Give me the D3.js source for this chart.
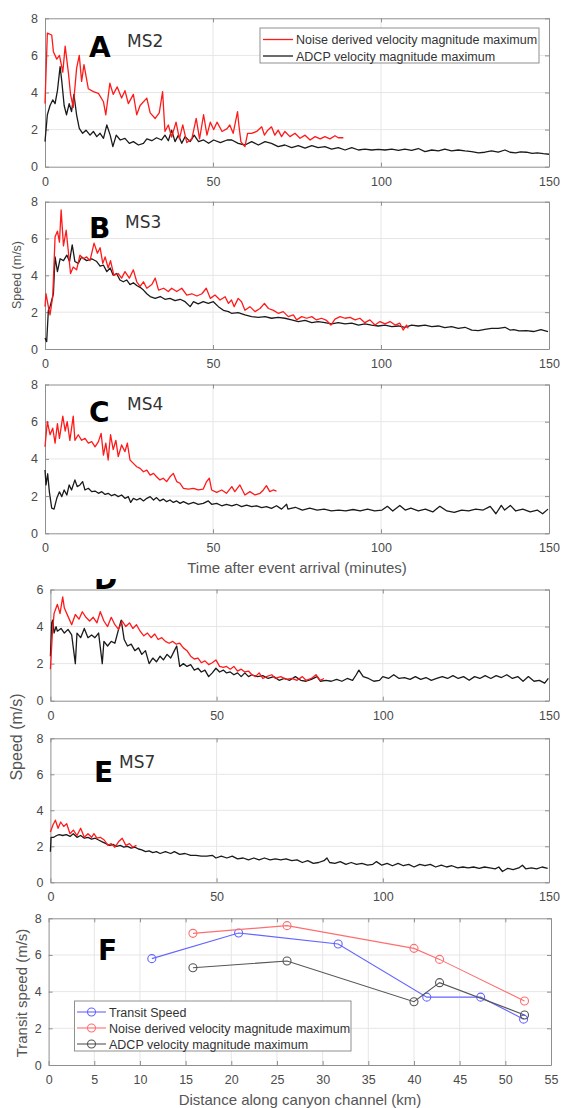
<!DOCTYPE html>
<html>
<head>
<meta charset="utf-8">
<script src="https://cdn.jsdelivr.net/npm/d3@7"></script>
<style>
  body { margin: 0; background: #fff; }
  svg { display: block; }
</style>
</head>
<body>
<div id="chart"></div>
<script>
// ---- Data: [minutes after arrival, speed m/s] ----
const msA_noise = [[0,3.4],[0.7,7.2],[2,7.1],[2.5,6.2],[3.5,5.8],[4.3,6.0],[5.3,5.1],[6,6.5],[7,5.0],[7.6,3.9],[8.4,3.2],[9.4,5.3],[10.2,6.0],[10.9,4.6],[11.6,5.5],[12.9,4.2],[14.4,4.05],[15.9,3.95],[17.4,3.5],[18.1,2.8],[19.3,4.5],[20.3,3.9],[21.5,4.3],[22.8,3.7],[23.8,4.1],[24.8,3.4],[26.3,3.9],[27.3,2.8],[28.3,3.3],[30.3,3.7],[31.3,2.9],[32.8,2.6],[34,2.9],[35,4.05],[35.7,1.9],[36.7,2.25],[37.7,1.6],[39,2.4],[40,1.5],[41,2.25],[42.2,1.3],[43.7,1.5],[45,2.6],[46,1.5],[47.2,2.8],[48.2,1.7],[49.2,2.4],[50.2,2.0],[51.2,2.4],[52.7,1.9],[54.2,2.05],[55,2.25],[56,1.8],[57.3,2.97],[57.7,2.25],[58.3,1.35],[59.5,1.08],[60.3,1.8],[61.5,1.8],[63,1.9],[64.5,2.15],[65.3,1.7],[66.3,1.97],[67.4,2.15],[68.4,1.7],[69.4,1.97],[70.4,1.62],[71.4,1.9],[72.9,1.62],[74.4,1.8],[75.9,1.53],[77.4,1.7],[78.9,1.44],[80.4,1.62],[81.9,1.5],[83.3,1.62],[84.8,1.5],[86.3,1.67],[87.3,1.56],[88.8,1.56]];
const msA_adcp = [[0,1.35],[0.7,2.8],[1.5,3.3],[2.3,3.6],[3,3.4],[3.7,4.1],[4.5,5.4],[5,4.6],[5.7,3.3],[6.4,2.8],[7.2,3.4],[7.9,2.97],[8.6,3.9],[9.4,2.8],[10.2,2.07],[11.2,1.8],[12.2,1.97],[13.4,1.7],[14.4,1.9],[15.4,1.62],[16.4,1.8],[17.4,1.53],[18.4,2.25],[19.4,1.7],[20.2,1.08],[21.2,1.7],[22.4,1.44],[23.8,1.53],[25.1,1.26],[26.3,1.35],[27.8,1.17],[29.3,1.26],[30.3,1.5],[31.8,1.4],[33.2,1.56],[34.7,1.44],[35.7,1.7],[36.7,1.4],[37.7,1.97],[38.7,1.35],[39.7,1.7],[40.7,1.26],[41.7,1.62],[43.2,1.35],[44.4,1.7],[45.7,1.35],[47.2,1.44],[48.7,1.26],[50.2,1.44],[52.2,1.3],[54.2,1.44],[55.6,1.44],[57.5,1.26],[59.5,1.17],[61.5,1.35],[63.5,1.17],[65.5,1.35],[67.4,1.26],[69.4,1.08],[71.4,1.17],[73.4,1.03],[75.4,1.14],[77.4,1.0],[79.4,1.14],[81.3,1.03],[83.3,1.08],[85.3,0.95],[87.3,1.03],[89.3,0.9],[91.3,1.03],[93.3,0.9],[95.2,0.95],[97.2,0.9],[99.2,0.93],[101.2,0.9],[103.2,0.95],[105.2,0.88],[107.1,0.95],[109.1,0.88],[111.1,0.98],[113.1,0.81],[115.1,0.9],[117.1,0.85],[119,0.95],[121,0.85],[123,0.9],[125,0.85],[127,0.81],[129,0.74],[130.9,0.78],[132.9,0.85],[134.9,0.78],[136.9,0.9],[138.4,0.78],[140.1,0.75],[141.5,0.8],[143.3,0.78],[145,0.72],[146.5,0.75],[148.3,0.7],[150,0.67]];

const msB_noise = [[0,2.3],[0.3,3.0],[1,2.3],[1.5,1.85],[2.3,2.85],[3,6.1],[3.7,6.4],[4.3,5.8],[4.8,7.55],[5.5,5.6],[6.3,6.45],[7,5.2],[7.6,4.1],[8.4,4.45],[9.4,4.3],[10.4,5.1],[11.4,4.9],[12.4,5.0],[13.4,4.8],[14.6,5.75],[15.6,5.2],[16.4,5.5],[17.2,4.65],[17.9,5.0],[18.8,4.4],[19.5,4.8],[20.5,4.0],[21.8,4.1],[22.8,3.85],[23.8,4.2],[25.1,3.85],[26.3,4.3],[27.3,3.65],[28.3,3.4],[29.3,3.65],[30.3,3.3],[31.8,3.5],[32.8,3.85],[33.8,3.2],[35.3,3.3],[36.7,3.12],[37.7,3.3],[39.2,3.12],[40.7,3.3],[42.2,2.93],[43.7,3.0],[45.2,2.88],[46.7,3.0],[48,3.3],[49.2,2.75],[50.6,2.93],[52.1,2.66],[53.6,2.84],[54.6,2.48],[55.5,2.66],[56.3,2.3],[57.5,2.75],[58.5,2.57],[59.5,2.1],[61,2.3],[62.5,2.03],[64,2.2],[65.3,2.48],[66.5,2.2],[68,2.1],[69.4,1.94],[70.9,2.03],[72.4,1.76],[73.9,1.85],[74.9,1.58],[76.4,1.76],[77.9,1.67],[79.4,1.76],[80.8,1.58],[82.3,1.67],[83.8,1.55],[85.1,1.3],[86.3,1.62],[87.8,1.76],[89.3,1.67],[90.8,1.72],[92.3,1.58],[93.7,1.67],[95.2,1.43],[96.7,1.58],[98.2,1.3],[99.7,1.49],[101.2,1.36],[102.7,1.49],[104.2,1.3],[105.6,1.4],[106.6,1.03],[107.6,1.3],[108.1,1.12]];
const msB_adcp = [[0,0.6],[0.5,0.4],[1,2.1],[1.5,2.3],[2.5,3.0],[3,5.0],[3.7,4.2],[4.5,4.9],[5.5,4.8],[6.5,5.1],[7.3,4.75],[8.1,5.65],[8.9,4.75],[9.9,4.65],[10.9,5.0],[12.4,4.8],[13.9,4.9],[15.4,4.75],[16.4,4.5],[17.4,4.55],[18.4,4.2],[19.4,4.4],[20.3,4.0],[21.3,4.1],[22.3,3.75],[23.3,3.65],[24.3,3.75],[25.3,3.5],[26.3,3.6],[27.3,3.45],[28.3,3.35],[29.3,3.2],[30.3,3.0],[31.3,2.85],[32.8,2.75],[34.3,2.85],[35.7,2.7],[37.2,2.75],[38.7,2.63],[40.2,2.7],[41.7,2.57],[43.2,2.3],[44.2,2.57],[45.6,2.45],[47.1,2.57],[48.6,2.48],[50.1,2.57],[51.6,2.3],[53.1,2.1],[54.6,2.03],[55.5,1.94],[57.5,1.98],[59.5,1.85],[61.5,1.76],[63.5,1.72],[65.5,1.76],[67.4,1.67],[69.4,1.72],[71.4,1.67],[73.4,1.58],[75.4,1.49],[77.4,1.55],[79.4,1.43],[81.3,1.49],[83.3,1.43],[85.3,1.36],[87.3,1.43],[89.3,1.36],[91.3,1.4],[93.3,1.3],[95.2,1.36],[97.2,1.3],[99.2,1.25],[101.2,1.3],[103.2,1.21],[105.2,1.25],[107.1,1.18],[109.1,1.3],[111.1,1.25],[113.1,1.3],[115.1,1.21],[117.1,1.25],[119,1.16],[121,1.21],[123,1.12],[125,1.18],[127,1.03],[129,1.0],[130.9,1.07],[132.9,1.12],[134.9,1.12],[136.9,1.18],[138.4,1.03],[139.5,1.05],[141.1,0.98],[143.3,1.0],[145.4,0.95],[147.6,1.05],[149.7,0.95]];

const msC_noise = [[0,4.65],[0.7,6.0],[1.5,5.3],[2.3,5.65],[3,4.85],[3.7,5.9],[4.3,5.1],[5.3,6.3],[6,5.5],[6.6,6.0],[7.4,5.0],[8.4,6.3],[8.9,5.0],[9.9,5.3],[10.9,5.0],[11.9,5.1],[12.9,4.85],[13.9,4.93],[14.9,4.65],[15.9,4.93],[16.7,5.37],[17.4,4.2],[18.1,4.85],[18.8,3.94],[19.5,5.3],[20.3,4.5],[21.1,5.0],[21.8,4.12],[22.8,4.75],[23.8,4.39],[24.5,4.85],[25.3,3.94],[26.3,3.76],[27.3,3.58],[28.3,3.49],[29.3,3.31],[30.3,3.4],[31.3,3.13],[32.3,3.22],[33.2,3.04],[34.2,2.87],[35.2,2.96],[36.2,2.78],[37.2,3.04],[38.2,3.22],[39.2,2.78],[40.2,2.69],[41.2,2.42],[42.7,2.38],[44.2,2.42],[45.6,2.33],[47.1,2.38],[48.1,2.78],[48.9,2.96],[49.6,2.33],[51.1,2.2],[52.6,2.33],[54,2.15],[55.6,2.51],[56.5,2.24],[58,2.6],[59.5,2.06],[61,2.24],[62.5,2.06],[64,2.15],[65,2.33],[65.9,2.56],[66.9,2.24],[67.9,2.33],[68.9,2.27]];
const msC_adcp = [[0,3.4],[0.3,2.6],[0.8,3.2],[1.3,2.23],[2,1.35],[2.7,1.3],[3.5,1.88],[4.3,2.23],[5,1.97],[5.7,2.33],[6.5,2.06],[7.2,2.6],[7.9,2.33],[8.9,2.87],[9.6,2.51],[10.4,2.6],[11.2,2.78],[11.9,2.33],[12.9,2.42],[13.9,2.24],[14.9,2.27],[15.9,2.15],[16.9,2.24],[17.9,2.09],[18.8,2.15],[19.8,2.02],[20.8,2.09],[21.8,1.97],[22.8,2.06],[23.8,1.88],[24.8,1.97],[25.5,1.66],[26.3,1.88],[27.3,1.79],[28.3,1.88],[29.3,1.74],[30.3,1.88],[31.3,1.97],[32.3,1.79],[33.2,1.92],[34.2,1.74],[35.2,1.84],[36.2,1.7],[37.2,1.79],[38.2,1.66],[39.2,1.74],[40.2,1.61],[41.2,1.7],[42.7,1.57],[44.2,1.66],[45.6,1.56],[47.1,1.61],[48.6,1.74],[49.6,1.56],[51.1,1.61],[52.6,1.48],[54,1.56],[55.6,1.48],[57,1.56],[58.5,1.43],[60,1.52],[61.5,1.43],[63,1.48],[64.5,1.38],[65.9,1.43],[67.4,1.34],[68.9,1.48],[70.4,1.3],[71.9,1.56],[72.3,1.3],[74.5,1.4],[76.6,1.25],[78.8,1.35],[81,1.25],[83.1,1.3],[85.2,1.2],[87.4,1.25],[89.5,1.2],[91.7,1.28],[93.8,1.2],[96,1.3],[98.1,1.2],[100.3,1.25],[101.9,1.45],[103.5,1.2],[105.6,1.5],[107.2,1.25],[108.9,1.35],[111.1,1.2],[113.2,1.3],[115.4,1.15],[117.5,1.45],[119.6,1.2],[121.8,1.12],[124,1.25],[126.1,1.2],[128.2,1.3],[130.4,1.25],[132.5,1.45],[134.2,1.05],[135.8,1.5],[136.8,1.25],[138.5,1.5],[140.1,1.2],[142.2,1.3],[144.4,1.15],[146.5,1.25],[148.1,1.05],[149.7,1.3]];

const msD_noise = [[0,1.7],[0.6,3.65],[1.1,4.7],[2.1,5.2],[2.9,4.7],[3.7,5.6],[4.2,5.0],[5.3,4.55],[6.4,4.1],[7.5,4.65],[8.6,4.4],[9.6,4.8],[10.7,4.5],[11.8,4.3],[12.9,4.5],[14,4.2],[15,4.8],[16.1,4.3],[17.2,4.0],[18.3,4.5],[19.4,4.1],[20.5,3.85],[21.6,4.3],[22.7,4.0],[23.8,4.2],[24.8,3.9],[25.9,4.1],[27,3.75],[28.1,3.5],[29.2,3.65],[30.3,3.4],[31.4,3.6],[32.4,3.3],[33.5,3.4],[34.6,3.2],[35.7,3.1],[36.8,3.2],[37.9,3.05],[38.9,3.1],[40,2.85],[41.1,2.7],[42.2,2.4],[43.3,2.25],[44.4,2.3],[45.4,2.05],[46.5,2.15],[47.6,1.95],[48.7,2.05],[49.8,2.2],[50.9,1.85],[52,1.8],[53,1.85],[54.1,1.7],[55.2,1.85],[56.3,1.6],[57.4,1.7],[58.5,1.55],[59.6,1.6],[60.6,1.4],[61.7,1.3],[62.8,1.5],[63.9,1.2],[65,1.3],[66.6,1.4],[67.7,1.2],[69.3,1.3],[70.9,1.15],[72.6,1.2],[74.2,1.1],[75.8,1.3],[76.9,1.1],[78.5,1.2],[79.9,1.4],[81.2,1.1],[82.3,1.2]];
const msD_adcp = [[0,2.4],[0.4,4.2],[0.7,4.35],[1.1,3.65],[1.7,4.0],[2.1,3.75],[3.2,3.9],[4.2,3.65],[5.3,3.85],[6.4,3.55],[7.5,2.0],[8,3.65],[9.1,3.4],[10.2,3.9],[11.3,3.4],[12.4,3.55],[13.4,3.4],[14.5,3.65],[15.6,2.0],[16.1,3.2],[17.2,2.95],[18.3,3.2],[19.4,3.1],[20.5,3.85],[21.3,4.35],[22.2,3.3],[23.2,2.95],[24.3,3.05],[25.4,2.7],[26.5,2.85],[27.5,2.5],[28.6,2.7],[29.7,2.0],[30.8,2.3],[31.9,2.1],[33,2.4],[34,2.2],[35.1,2.5],[36.2,2.3],[37.3,2.7],[38,2.95],[38.9,1.85],[40,2.0],[41.1,1.85],[42.2,1.95],[43.3,1.65],[44.4,1.75],[45.4,1.55],[46.5,1.65],[47.6,1.3],[48.7,1.5],[49.8,1.75],[50.9,1.55],[52,1.65],[53,1.5],[54.1,1.55],[55.2,1.4],[56.3,1.5],[57.4,1.3],[58.5,1.5],[59.6,1.3],[60.6,1.4],[62.3,1.3],[63.9,1.35],[65.5,1.2],[67.2,1.3],[68.8,1.1],[70.4,1.2],[72,1.1],[73.7,1.3],[75.3,1.1],[76.9,1.05],[78.5,1.15],[80.2,1.3],[81.2,1.05],[82.9,1.1],[84.5,1.05],[86.1,1.15],[87.7,1.05],[89.3,1.2],[90.9,1.1],[92,1.4],[92.8,1.65],[94.1,1.3],[95.7,1.2],[97.3,1.05],[99,1.1],[100,1.3],[101.7,1.2],[103.3,1.4],[104.9,1.2],[106.5,1.25],[108.2,1.15],[109.8,1.3],[111.4,1.15],[113,1.25],[114.6,1.1],[116.2,1.2],[117.9,1.3],[119.5,1.2],[121.1,1.35],[122.7,1.2],[124.3,1.3],[126,1.1],[127.6,1.3],[129.2,1.2],[130.8,1.35],[132.5,1.2],[134.1,1.35],[135.7,1.25],[137.3,1.4],[139,1.2],[140.6,1.3],[142.2,1.05],[143.8,1.3],[145.5,1.05],[147.1,1.1],[148.7,0.95],[149.8,1.2]];

const msE_noise = [[0,2.8],[0.8,3.2],[1.5,3.45],[2.3,3.0],[3.1,3.35],[4,3.1],[4.9,3.25],[5.9,2.7],[6.9,2.9],[8,2.6],[9.1,3.0],[10.2,2.5],[11.3,2.7],[12.4,2.5],[13.1,2.7],[14,2.45],[15,2.5],[16.2,2.35],[17.3,2.05],[18.3,2.15],[19.4,1.95],[20.5,2.25],[21.6,2.45],[22.7,2.05],[23.8,2.15],[24.8,1.95],[25.9,2.05]];
const msE_adcp = [[0,1.7],[0.2,2.5],[1,2.5],[1.9,2.6],[2.6,2.65],[3.7,2.6],[4.8,2.65],[5.9,2.55],[6.9,2.7],[8,2.5],[9.1,2.6],[10.2,2.45],[11.3,2.5],[12.4,2.4],[13.5,2.45],[14.5,2.35],[15.6,2.25],[16.7,2.15],[17.8,2.05],[18.9,2.1],[20,2.0],[21,2.05],[22.1,1.95],[23.2,2.0],[24.3,1.9],[25.4,1.95],[26.5,1.85],[27.5,1.8],[28.6,1.7],[29.7,1.75],[30.8,1.65],[31.9,1.7],[33,1.6],[34.6,1.7],[36.2,1.6],[37.3,1.7],[38.9,1.55],[40.5,1.6],[42.2,1.5],[43.8,1.5],[45.4,1.45],[47.1,1.45],[48.7,1.5],[49.8,1.35],[51.4,1.45],[53.1,1.35],[54.7,1.45],[56.3,1.3],[58,1.35],[59.6,1.25],[61.2,1.35],[62.8,1.25],[64.4,1.35],[66.1,1.25],[67.7,1.3],[69.3,1.25],[70.9,1.3],[72.6,1.2],[74.2,1.25],[75.8,1.1],[77.4,1.2],[79.1,1.05],[80.7,1.1],[82.3,1.2],[83.2,1.35],[84,1.1],[85.6,1.05],[87.2,1.15],[88.9,1.0],[90.5,1.1],[92.1,1.0],[93.7,1.05],[95.4,0.95],[97,1.0],[98.1,1.15],[99.7,0.95],[101.3,1.05],[102.9,0.92],[104.6,1.05],[106.2,0.92],[107.8,1.0],[109.4,0.85],[111.1,1.0],[112.7,0.92],[114.3,1.0],[115.9,0.85],[117.6,0.95],[119.2,0.85],[120.8,0.92],[122.5,0.8],[124.1,0.85],[125.7,0.8],[127.3,0.85],[129,0.78],[130.6,0.85],[132.2,0.8],[133.8,0.75],[134.9,0.85],[136,0.6],[137.6,0.78],[139.2,0.7],[140.9,0.8],[142,0.95],[143,0.75],[144.7,0.8],[146.3,0.75],[147.9,0.85],[149.6,0.78]];

// Panel F: [distance along channel (km), speed (m/s)]
const fTransit = [[11.3,5.8],[20.8,7.2],[31.7,6.6],[41.4,3.7],[47.3,3.7],[52,2.5]];
const fNoise   = [[15.8,7.18],[26.1,7.6],[40,6.36],[42.8,5.76],[52.1,3.49]];
const fAdcp    = [[15.8,5.3],[26.1,5.67],[40,3.45],[42.8,4.49],[52.1,2.73]];

const timeTicks = [0, 50, 100, 150];
const distTicks = [0,5,10,15,20,25,30,35,40,45,50,55];
const legendTime = ["Noise derived velocity magnitude maximum", "ADCP velocity magnitude maximum"];
const legendF = ["Transit Speed", "Noise derived velocity magnitude maximum", "ADCP velocity magnitude maximum"];

// ---- Canvas ----
const W = 563, H = 1108;
const FONT = "'Liberation Sans', Arial, sans-serif";
const RED = "#ff1a1a", BLACK = "#1a1a1a";

const svg = d3.select("#chart").append("svg")
    .attr("width", W)
    .attr("height", H)
    .style("background", "#fff");

// Helper: frame, grid and MATLAB-style inward ticks for one axes box
function drawAxes(x, y, xTicks, yTicks) {
    const g = svg.append("g");
    const [l, r] = x.range();
    const [b, t] = y.range();
    const fmt = d3.format("d");

    g.selectAll(".gx").data(xTicks.slice(1, -1)).enter().append("line")
        .attr("x1", d => x(d)).attr("x2", d => x(d))
        .attr("y1", t).attr("y2", b)
        .attr("stroke", "#e6e6e6").attr("stroke-width", 1);
    g.selectAll(".gy").data(yTicks.slice(1, -1)).enter().append("line")
        .attr("x1", l).attr("x2", r)
        .attr("y1", d => y(d)).attr("y2", d => y(d))
        .attr("stroke", "#e6e6e6").attr("stroke-width", 1);

    g.append("g").attr("transform", `translate(0,${b})`)
        .call(d3.axisBottom(x).tickValues(xTicks).tickFormat(fmt).tickSizeInner(-4).tickSizeOuter(0).tickPadding(10));
    g.append("g").attr("transform", `translate(${l},0)`)
        .call(d3.axisLeft(y).tickValues(yTicks).tickFormat(fmt).tickSizeInner(-4).tickSizeOuter(0).tickPadding(7));
    g.append("g").attr("transform", `translate(0,${t})`)
        .call(d3.axisTop(x).tickValues(xTicks).tickSizeInner(-4).tickSizeOuter(0).tickFormat(""));
    g.append("g").attr("transform", `translate(${r},0)`)
        .call(d3.axisRight(y).tickValues(yTicks).tickSizeInner(-4).tickSizeOuter(0).tickFormat(""));

    g.selectAll(".domain, .tick line").attr("stroke", "#8f8f8f");
    g.selectAll(".tick text")
        .attr("fill", "#4a4a4a")
        .style("font-family", FONT)
        .style("font-size", "12.5px");
    return g;
}

function label(txt, x, y, opts) {
    return svg.append("text")
        .attr("x", x).attr("y", y)
        .attr("text-anchor", opts.anchor || "start")
        .attr("transform", opts.rotate ? `rotate(-90,${x},${y})` : null)
        .attr("fill", opts.fill || "#4a4a4a")
        .style("font-family", opts.family || FONT)
        .style("font-size", opts.size + "px")
        .style("font-weight", opts.weight || "normal")
        .text(txt);
}

// ---- Time-series panels A-E ----
const panels = [
    { noise: msA_noise, adcp: msA_adcp, box: [45, 549, 166.7, 18.3], ymax: 8, letter: "A", lx: 89, ly: 57, station: "MS2", sx: 127, sy: 47 },
    { noise: msB_noise, adcp: msB_adcp, box: [45, 549, 349, 201.7], ymax: 8, letter: "B", lx: 89, ly: 238, station: "MS3", sx: 125, sy: 228 },
    { noise: msC_noise, adcp: msC_adcp, box: [45, 549, 533.3, 384.5], ymax: 8, letter: "C", lx: 89, ly: 422, station: "MS4", sx: 127, sy: 410 },
    { noise: msD_noise, adcp: msD_adcp, box: [50.4, 549, 700.7, 589.5], ymax: 6, letter: "D", lx: 94, ly: 589, station: null, clipTop: 579 },
    { noise: msE_noise, adcp: msE_adcp, box: [50.4, 549, 882.3, 738.3], ymax: 8, letter: "E", lx: 94, ly: 782, station: "MS7", sx: 119, sy: 768 }
];

const defs = svg.append("defs");

panels.forEach((p, i) => {
    const x = d3.scaleLinear().domain([0, 150]).range([p.box[0], p.box[1]]);
    const y = d3.scaleLinear().domain([0, p.ymax]).range([p.box[2], p.box[3]]);
    drawAxes(x, y, timeTicks, d3.range(0, p.ymax + 1, 2));

    const line = d3.line().x(d => x(d[0])).y(d => y(d[1]));
    svg.append("path").datum(p.adcp).attr("d", line)
        .attr("fill", "none").attr("stroke", BLACK).attr("stroke-width", 1.3).attr("stroke-linejoin", "round");
    svg.append("path").datum(p.noise).attr("d", line)
        .attr("fill", "none").attr("stroke", RED).attr("stroke-width", 1.3).attr("stroke-linejoin", "round");

    const letter = label(p.letter, p.lx, p.ly, { size: 28, weight: "bold", fill: "#000", family: "'DejaVu Sans', sans-serif" });
    if (p.clipTop) {
        defs.append("clipPath").attr("id", "clip" + i)
            .append("rect").attr("x", 0).attr("y", p.clipTop).attr("width", W).attr("height", 20);
        letter.attr("clip-path", `url(#clip${i})`);
    }
    if (p.station) label(p.station, p.sx, p.sy, { size: 17, fill: "#333", family: "'DejaVu Sans', sans-serif" });
});

// Legend for panel A
const legA = svg.append("g");
legA.append("rect").attr("x", 260).attr("y", 28).attr("width", 279).attr("height", 35)
    .attr("fill", "#fff").attr("stroke", "#8f8f8f");
[RED, BLACK].forEach((c, k) => {
    const yy = 39.5 + k * 16.5;
    legA.append("line").attr("x1", 263).attr("x2", 293).attr("y1", yy).attr("y2", yy)
        .attr("stroke", c).attr("stroke-width", 1.3);
    legA.append("text").attr("x", 296).attr("y", yy + 4.5)
        .attr("fill", "#333").style("font-family", FONT).style("font-size", "12.5px")
        .text(legendTime[k]);
});

// Axis titles for the time panels
label("Speed (m/s)", 21, 275, { size: 12.5, rotate: true, anchor: "middle", fill: "#555" });
label("Time after event arrival (minutes)", 297, 573, { size: 15, anchor: "middle", fill: "#555" });
label("Speed (m/s)", 22, 737, { size: 16, rotate: true, anchor: "middle", fill: "#555" });

// ---- Panel F ----
const fx = d3.scaleLinear().domain([0, 55]).range([48.6, 551]);
const fy = d3.scaleLinear().domain([0, 8]).range([1065, 918.3]);
drawAxes(fx, fy, distTicks, [0, 2, 4, 6, 8]);

const fSeries = [
    { data: fTransit, color: "#6464ff" },
    { data: fNoise, color: "#ff6e6e" },
    { data: fAdcp, color: "#555555" }
];
const fLine = d3.line().x(d => fx(d[0])).y(d => fy(d[1]));
fSeries.forEach(s => {
    svg.append("path").datum(s.data).attr("d", fLine)
        .attr("fill", "none").attr("stroke", s.color).attr("stroke-width", 1.1);
    svg.selectAll(null).data(s.data).enter().append("circle")
        .attr("cx", d => fx(d[0])).attr("cy", d => fy(d[1])).attr("r", 4)
        .attr("fill", "none").attr("stroke", s.color).attr("stroke-width", 1.1);
});

label("F", 98, 960, { size: 28, weight: "bold", fill: "#000", family: "'DejaVu Sans', sans-serif" });

const legF = svg.append("g");
legF.append("rect").attr("x", 74.5).attr("y", 1001).attr("width", 276.5).attr("height", 50)
    .attr("fill", "#fff").attr("stroke", "#8f8f8f");
fSeries.forEach((s, k) => {
    const yy = 1012 + k * 16;
    legF.append("line").attr("x1", 77).attr("x2", 106).attr("y1", yy).attr("y2", yy)
        .attr("stroke", s.color).attr("stroke-width", 1.1);
    legF.append("circle").attr("cx", 91.5).attr("cy", yy).attr("r", 4)
        .attr("fill", "none").attr("stroke", s.color).attr("stroke-width", 1.1);
    legF.append("text").attr("x", 109).attr("y", yy + 4.5)
        .attr("fill", "#333").style("font-family", FONT).style("font-size", "12.5px")
        .text(legendF[k]);
});

label("Transit speed (m/s)", 27, 993, { size: 15, rotate: true, anchor: "middle", fill: "#555" });
label("Distance along canyon channel (km)", 300, 1105, { size: 15, anchor: "middle", fill: "#555" });
</script>
</body>
</html>
